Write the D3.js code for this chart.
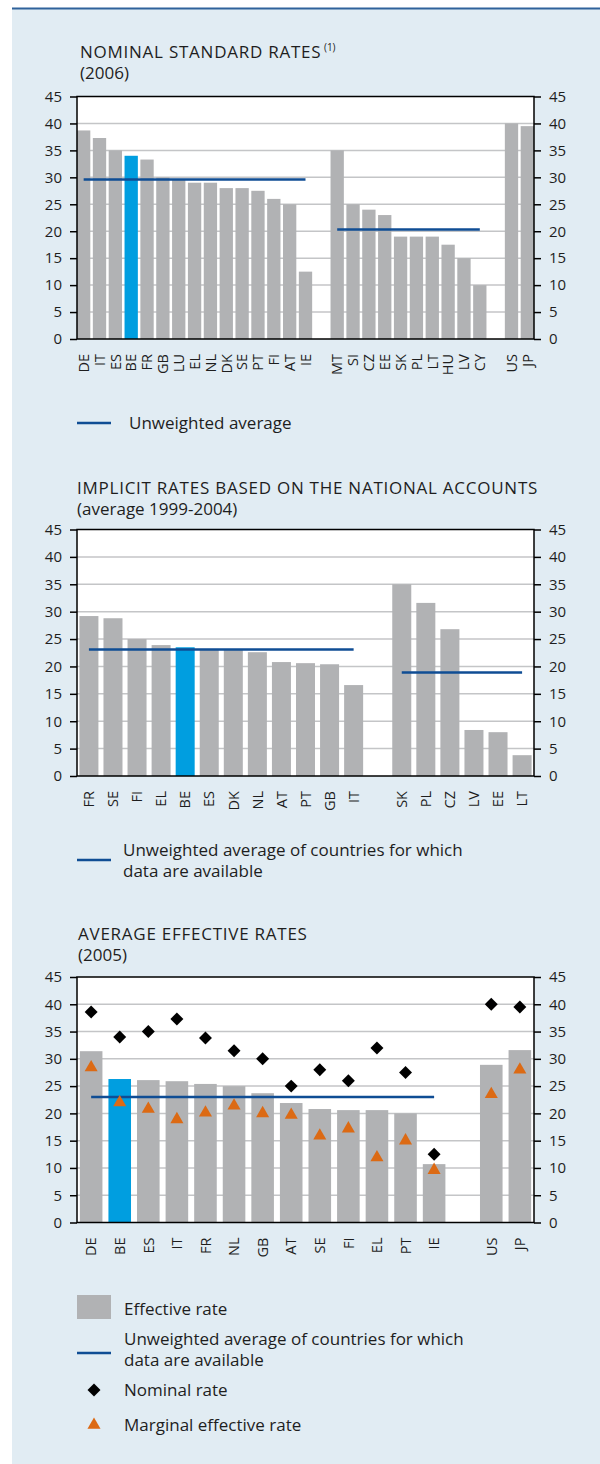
<!DOCTYPE html>
<html>
<head>
<meta charset="utf-8">
<script src="https://cdn.jsdelivr.net/npm/d3@7"></script>
<style>
  body { margin: 0; background: #fff; }
  svg text { font-family: "Open Sans", sans-serif; fill: #1e1e1e; }
</style>
</head>
<body>
<div id="chart"></div>
<script>
// ---- panel 1: nominal standard rates (2006)
const nomEuro = ["DE", "IT", "ES", "BE", "FR", "GB", "LU", "EL", "NL", "DK", "SE", "PT", "FI", "AT", "IE"];
const nomEuroValues = [38.7, 37.3, 35, 34, 33.3, 30, 29.6, 29, 29, 28, 28, 27.5, 26, 25, 12.5];
const nomNew = ["MT", "SI", "CZ", "EE", "SK", "PL", "LT", "HU", "LV", "CY"];
const nomNewValues = [35, 25, 24, 23, 19, 19, 19, 17.5, 15, 10];
const nomOther = ["US", "JP"];
const nomOtherValues = [40, 39.5];
const nomAverages = [29.6, 20.3];

// ---- panel 2: implicit rates (average 1999-2004)
const impEuro = ["FR", "SE", "FI", "EL", "BE", "ES", "DK", "NL", "AT", "PT", "GB", "IT"];
const impEuroValues = [29.2, 28.8, 25, 23.9, 23.5, 23.2, 23, 22.6, 20.8, 20.6, 20.4, 16.6];
const impNew = ["SK", "PL", "CZ", "LV", "EE", "LT"];
const impNewValues = [35, 31.6, 26.8, 8.4, 8, 3.8];
const impAverages = [23.1, 18.9];

// ---- panel 3: average effective rates (2005)
const effEuro = ["DE", "BE", "ES", "IT", "FR", "NL", "GB", "AT", "SE", "FI", "EL", "PT", "IE"];
const effEuroValues = [31.4, 26.3, 26.1, 25.9, 25.4, 25, 23.7, 21.9, 20.8, 20.6, 20.6, 20, 10.7];
const effEuroNominal = [38.6, 34, 35, 37.3, 33.8, 31.5, 30, 25, 28, 26, 32, 27.5, 12.5];
const effEuroMarginal = [28.4, 22, 20.8, 18.9, 20.1, 21.4, 20, 19.7, 15.9, 17.2, 11.9, 15, 9.6];
const effOther = ["US", "JP"];
const effOtherValues = [28.9, 31.6];
const effOtherNominal = [40, 39.5];
const effOtherMarginal = [23.5, 28];
const effAverages = [23.0];

const yTicks = [0, 5, 10, 15, 20, 25, 30, 35, 40, 45];

const LEFT = 77, RIGHT = 534;
const barGrey = "#b1b2b4", beBlue = "#009ee0", avgBlue = "#0f4d94", triOrange = "#dc6a14";

const svg = d3.select("#chart").append("svg")
    .attr("width", 600)
    .attr("height", 1464);

svg.append("rect")
    .attr("x", 12).attr("y", 8)
    .attr("width", 588).attr("height", 1456)
    .attr("fill", "#e1ecf3");
svg.append("line")
    .attr("x1", 12).attr("x2", 600)
    .attr("y1", 8.5).attr("y2", 8.5)
    .attr("stroke", "#2f629b")
    .attr("stroke-width", 2);

function drawPanel(p) {
    // band domain with an empty slot between groups
    let domain = [];
    p.groups.forEach(function (gr, i) {
        if (i > 0) domain.push("gap" + i);
        gr.cats.forEach(function (c) { domain.push(c); });
    });
    let x = d3.scaleBand().domain(domain).range([LEFT, RIGHT])
        .paddingInner(p.padIn).paddingOuter(p.padOut);
    let y = d3.scaleLinear().domain([0, 45]).range([p.bottom, p.top]);

    let g = svg.append("g");

    // title
    let t = g.append("text").attr("x", p.titleX).attr("y", p.titleY)
        .style("font-size", "17px").style("letter-spacing", "0.75px");
    t.append("tspan").text(p.title[0]);
    if (p.note) {
        t.append("tspan").text("  " + p.note).style("font-size", "10px")
            .style("letter-spacing", "0px").attr("dy", -7);
    }
    g.append("text").attr("x", p.titleX).attr("y", p.titleY + 21)
        .style("font-size", "17px").text(p.title[1]);

    // plot area
    g.append("rect")
        .attr("x", LEFT).attr("y", p.top)
        .attr("width", RIGHT - LEFT).attr("height", p.bottom - p.top)
        .attr("fill", "#fff");

    g.selectAll(".grid")
        .data(yTicks.slice(1, -1))
        .join("line")
        .attr("class", "grid")
        .attr("x1", LEFT).attr("x2", RIGHT)
        .attr("y1", function (d) { return y(d); })
        .attr("y2", function (d) { return y(d); })
        .attr("stroke", "#c4c5c7")
        .attr("stroke-width", 1.5);

    let rows = [];
    p.groups.forEach(function (gr) {
        gr.cats.forEach(function (c, i) {
            rows.push({
                cat: c, v: gr.values[i],
                nom: gr.nominal ? gr.nominal[i] : null,
                mar: gr.marginal ? gr.marginal[i] : null
            });
        });
    });

    g.selectAll(".bar")
        .data(rows)
        .join("rect")
        .attr("class", "bar")
        .attr("x", function (d) { return x(d.cat); })
        .attr("width", x.bandwidth())
        .attr("y", function (d) { return y(d.v); })
        .attr("height", function (d) { return y(0) - y(d.v); })
        .attr("fill", function (d) { return d.cat == "BE" ? beBlue : barGrey; });

    // unweighted averages, drawn from first to last bar centre of the group
    p.averages.forEach(function (a, i) {
        let cats = p.groups[i].cats;
        g.append("line")
            .attr("x1", x(cats[0]) + x.bandwidth() / 2)
            .attr("x2", x(cats[cats.length - 1]) + x.bandwidth() / 2)
            .attr("y1", y(a)).attr("y2", y(a))
            .attr("stroke", avgBlue)
            .attr("stroke-width", 2.5);
    });

    let diamond = d3.symbol().type(d3.symbolSquare).size(84);
    g.selectAll(".nom")
        .data(rows.filter(function (d) { return d.nom != null; }))
        .join("path")
        .attr("class", "nom")
        .attr("d", diamond)
        .attr("transform", function (d) {
            return "translate(" + (x(d.cat) + x.bandwidth() / 2) + "," + y(d.nom) + ") rotate(45)";
        })
        .attr("fill", "#000");

    let tri = d3.symbol().type(d3.symbolTriangle).size(74);
    g.selectAll(".mar")
        .data(rows.filter(function (d) { return d.mar != null; }))
        .join("path")
        .attr("class", "mar")
        .attr("d", tri)
        .attr("transform", function (d) {
            return "translate(" + (x(d.cat) + x.bandwidth() / 2) + "," + y(d.mar) + ")";
        })
        .attr("fill", triOrange);

    // frame
    g.append("rect")
        .attr("x", LEFT).attr("y", p.top)
        .attr("width", RIGHT - LEFT).attr("height", p.bottom - p.top)
        .attr("fill", "none")
        .attr("stroke", "#000")
        .attr("stroke-width", 1.5);

    let yAxisL = d3.axisLeft(y).tickValues(yTicks).tickSize(7).tickPadding(8).tickSizeOuter(0);
    let yAxisR = d3.axisRight(y).tickValues(yTicks).tickSize(7).tickPadding(8).tickSizeOuter(0);
    let gl = g.append("g").attr("transform", "translate(" + LEFT + ",0)").call(yAxisL);
    let gr = g.append("g").attr("transform", "translate(" + RIGHT + ",0)").call(yAxisR);
    [gl, gr].forEach(function (ax) {
        ax.select(".domain").remove();
        ax.selectAll("line").attr("stroke", "#000").attr("stroke-width", 1.5);
        ax.selectAll("text").style("font-size", "15px").style("font-family", "'Open Sans', sans-serif").attr("fill", "#1e1e1e");
    });

    let xAxis = d3.axisBottom(x)
        .tickValues(domain.filter(function (d) { return d.indexOf("gap") != 0; }))
        .tickSize(0);
    let gx = g.append("g").attr("transform", "translate(0," + p.bottom + ")").call(xAxis);
    gx.select(".domain").remove();
    gx.selectAll("text")
        .attr("transform", "rotate(-90)")
        .attr("x", -15)
        .attr("y", 0)
        .attr("dy", "0.36em")
        .style("text-anchor", "end")
        .style("font-size", "14.5px")
        .style("font-family", "'Open Sans', sans-serif")
        .attr("fill", "#1e1e1e");
}

drawPanel({
    title: ["NOMINAL STANDARD RATES", "(2006)"], note: "(1)",
    titleX: 80, titleY: 58, top: 96.5, bottom: 339,
    padIn: 0.16, padOut: 0,
    groups: [
        { cats: nomEuro, values: nomEuroValues },
        { cats: nomNew, values: nomNewValues },
        { cats: nomOther, values: nomOtherValues }
    ],
    averages: nomAverages
});

drawPanel({
    title: ["IMPLICIT RATES BASED ON THE NATIONAL ACCOUNTS", "(average 1999-2004)"],
    titleX: 77, titleY: 494, top: 529.5, bottom: 776,
    padIn: 0.21, padOut: 0.1,
    groups: [
        { cats: impEuro, values: impEuroValues },
        { cats: impNew, values: impNewValues }
    ],
    averages: impAverages
});

drawPanel({
    title: ["AVERAGE EFFECTIVE RATES", "(2005)"],
    titleX: 78, titleY: 940, top: 977, bottom: 1222.5,
    padIn: 0.21, padOut: 0.1,
    groups: [
        { cats: effEuro, values: effEuroValues, nominal: effEuroNominal, marginal: effEuroMarginal },
        { cats: effOther, values: effOtherValues, nominal: effOtherNominal, marginal: effOtherMarginal }
    ],
    averages: effAverages
});

// ---- legends
function legendText(x, y, lines) {
    let t = svg.append("text").attr("x", x).attr("y", y).style("font-size", "17px");
    lines.forEach(function (l, i) {
        t.append("tspan").attr("x", x).attr("dy", i == 0 ? "0.35em" : "1.22em").text(l);
    });
}
function legendLine(y) {
    svg.append("line")
        .attr("x1", 77).attr("x2", 111)
        .attr("y1", y).attr("y2", y)
        .attr("stroke", avgBlue).attr("stroke-width", 2.5);
}

legendLine(423);
legendText(129, 423, ["Unweighted average"]);

legendLine(860);
legendText(123, 850, ["Unweighted average of countries for which", "data are available"]);

svg.append("rect")
    .attr("x", 77).attr("y", 1295)
    .attr("width", 34).attr("height", 24)
    .attr("fill", barGrey);
legendText(124, 1309, ["Effective rate"]);

legendLine(1353);
legendText(124, 1339, ["Unweighted average of countries for which", "data are available"]);

svg.append("path")
    .attr("d", d3.symbol().type(d3.symbolSquare).size(84))
    .attr("transform", "translate(94,1390) rotate(45)")
    .attr("fill", "#000");
legendText(124, 1390, ["Nominal rate"]);

svg.append("path")
    .attr("d", d3.symbol().type(d3.symbolTriangle).size(74))
    .attr("transform", "translate(94,1425)")
    .attr("fill", triOrange);
legendText(124, 1425, ["Marginal effective rate"]);
</script>
</body>
</html>
